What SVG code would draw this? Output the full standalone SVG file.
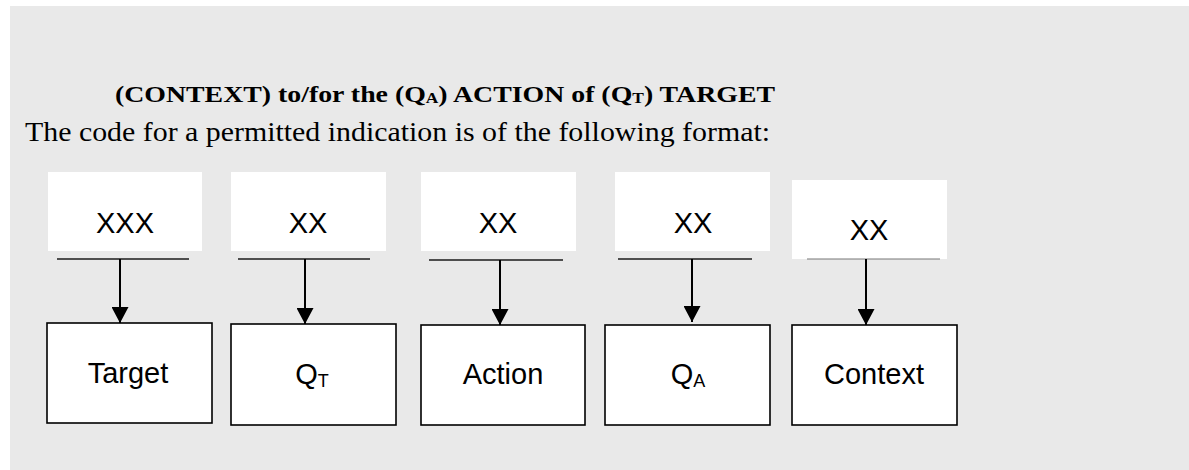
<svg xmlns="http://www.w3.org/2000/svg" width="1189" height="470" viewBox="0 0 1189 470">
<style>
.bg{fill:#e9e9e9}
.code{fill:#ffffff;stroke:none}
.box{fill:#ffffff;stroke:#000;stroke-width:1.6}
.bar{stroke:#1a1a1a;stroke-width:1.6}
.arr{stroke:#000;stroke-width:2;fill:none}
.lbl{font-family:"Liberation Sans",Arial,sans-serif;font-size:29px;fill:#000;text-anchor:middle}
.sub{font-size:18px}
.title{font-family:"Liberation Serif","Times New Roman",serif;font-weight:bold;font-size:24px;fill:#000}
.para{font-family:"Liberation Serif","Times New Roman",serif;font-size:27px;fill:#000}
</style>
<defs>
<marker id="ah" markerWidth="16" markerHeight="17" refX="16" refY="8.5" orient="auto" markerUnits="userSpaceOnUse" viewBox="0 0 16 17">
<path d="M0,0 L16,8.5 L0,17 Z" fill="#000"/>
</marker>
</defs>
<rect class="bg" x="10" y="6" width="1179" height="464"/>
<text class="title" x="115" y="102" textLength="660" lengthAdjust="spacingAndGlyphs">(CONTEXT) to/for the (Q<tspan font-size="15" dy="1">A</tspan><tspan dy="-1">) ACTION of (Q</tspan><tspan font-size="15" dy="1">T</tspan><tspan dy="-1">) TARGET</tspan></text>
<text class="para" x="25" y="141" textLength="745" lengthAdjust="spacingAndGlyphs">The code for a permitted indication is of the following format:</text>

<g id="code-target">
<rect class="code" x="48" y="172" width="154" height="79"/>
<text class="lbl" x="125" y="233">XXX</text>
</g>
<g id="code-qt">
<rect class="code" x="231" y="172" width="155" height="79"/>
<text class="lbl" x="308" y="233">XX</text>
</g>
<g id="code-action">
<rect class="code" x="421" y="172" width="155" height="79"/>
<text class="lbl" x="498" y="233">XX</text>
</g>
<g id="code-qa">
<rect class="code" x="615" y="172" width="155" height="79"/>
<text class="lbl" x="693" y="233">XX</text>
</g>
<g id="code-context">
<rect class="code" x="792" y="180" width="155" height="79"/>
<text class="lbl" x="869" y="240">XX</text>
</g>

<g id="target">
<rect class="box" x="47" y="323" width="165" height="100"/>
<text class="lbl" x="128" y="383">Target</text>
</g>
<g id="qt">
<rect class="box" x="231" y="324" width="165" height="101"/>
<text class="lbl" x="312" y="384">Q<tspan class="sub" dy="3">T</tspan></text>
</g>
<g id="action">
<rect class="box" x="421" y="325" width="164" height="100"/>
<text class="lbl" x="503" y="384">Action</text>
</g>
<g id="qa">
<rect class="box" x="605" y="325" width="165" height="100"/>
<text class="lbl" x="688" y="384">Q<tspan class="sub" dy="3">A</tspan></text>
</g>
<g id="context">
<rect class="box" x="792" y="325" width="165" height="100"/>
<text class="lbl" x="874" y="384">Context</text>
</g>

<g id="connectors">
<line class="bar" x1="57" y1="259" x2="189" y2="259"/>
<line class="bar" x1="238" y1="259" x2="370" y2="259"/>
<line class="bar" x1="429" y1="260" x2="563" y2="260"/>
<line class="bar" x1="618" y1="259" x2="752" y2="259"/>
<line x1="807" y1="259" x2="940" y2="259" stroke="#777" stroke-width="1"/>
<line class="arr" x1="120" y1="259" x2="120" y2="323" marker-end="url(#ah)"/>
<line class="arr" x1="305" y1="259" x2="305" y2="324" marker-end="url(#ah)"/>
<line class="arr" x1="500" y1="260" x2="500" y2="325" marker-end="url(#ah)"/>
<line class="arr" x1="692" y1="259" x2="692" y2="322" marker-end="url(#ah)"/>
<line class="arr" x1="866" y1="259" x2="866" y2="325" marker-end="url(#ah)"/>
</g>
</svg>
